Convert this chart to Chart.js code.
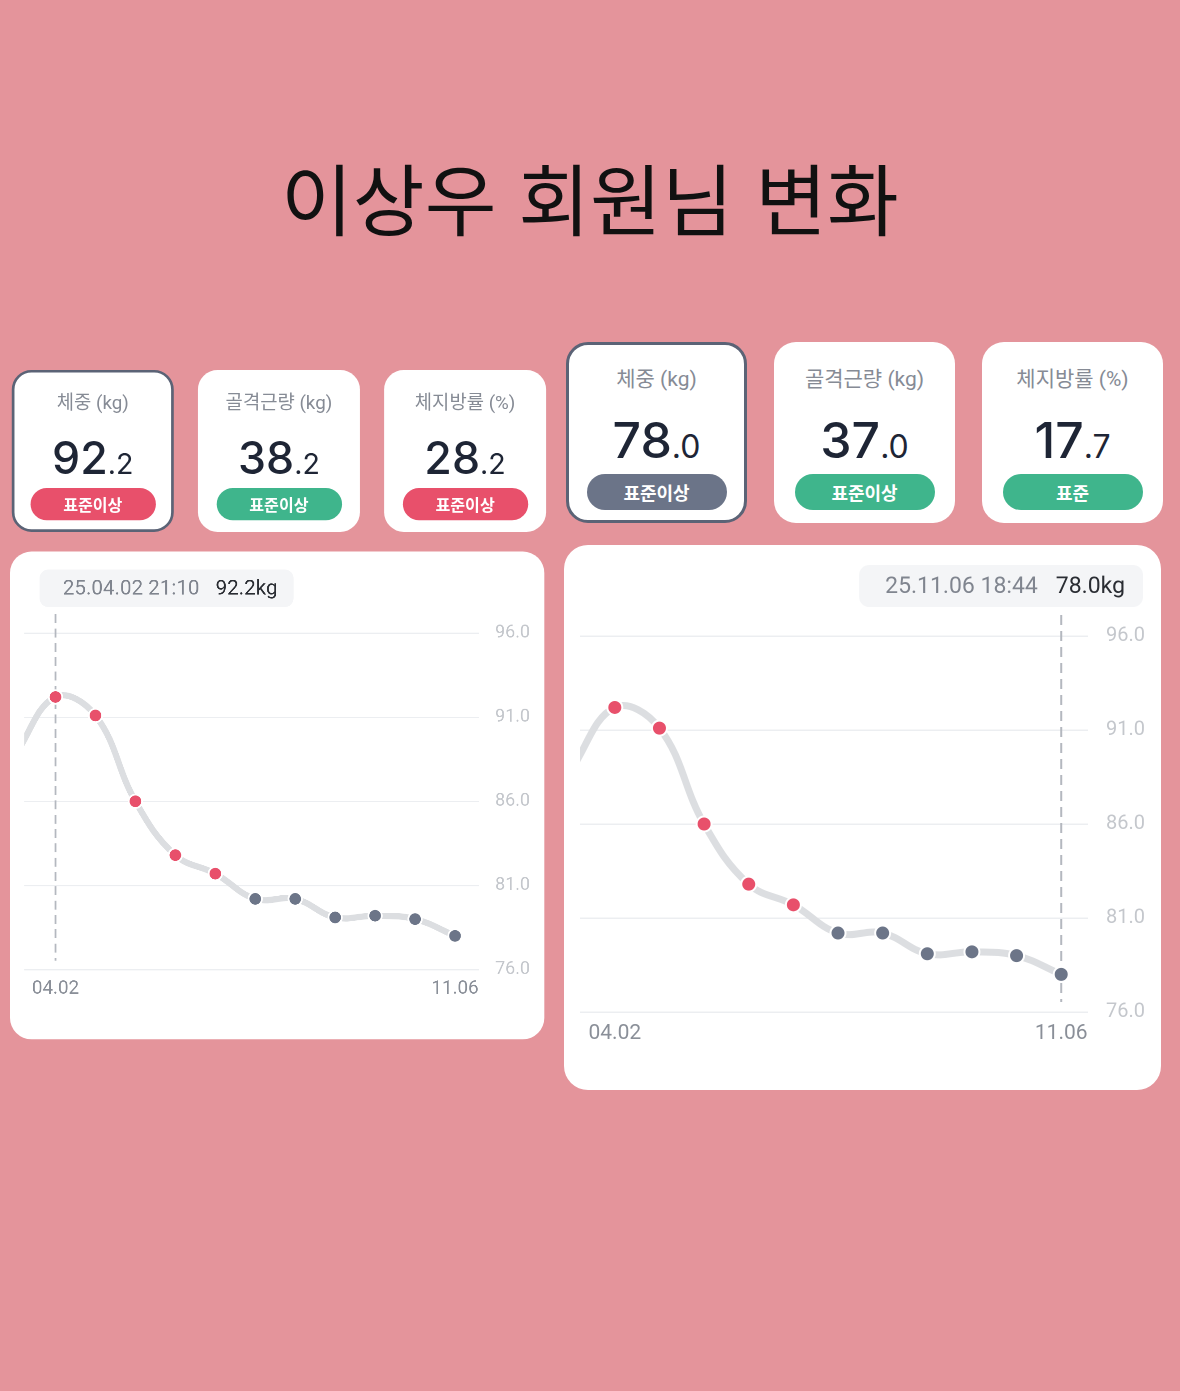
<!DOCTYPE html>
<html lang="ko">
<head>
<meta charset="utf-8">
<title>이상우 회원님 변화</title>
<script src="https://cdn.jsdelivr.net/npm/chart.js@4.4.1/dist/chart.umd.min.js"></script>
<style>
  body {
    margin: 0;
    width: 1180px;
    height: 1391px;
    background: #e4949b;
    position: relative;
    overflow: hidden;
    font-family: Roboto, "Noto Sans CJK KR", sans-serif;
  }
  .title {
    position: absolute;
    top: 146px;
    left: 0;
    width: 100%;
    margin: 0;
    text-align: center;
    font-family: "Noto Sans CJK KR", sans-serif;
    font-weight: 400;
    font-size: 78px;
    line-height: 100px;
    color: #111;
  }
  .panel {
    position: absolute;
    width: 600px;
    height: 750px;
    transform-origin: 0 0;
  }
  .card {
    position: absolute;
    top: 1px;
    width: 181px;
    height: 181px;
    background: #fff;
    border-radius: 22px;
    box-sizing: border-box;
  }
  .card.selected { border: 3px solid #5b6376; }
  .card .label {
    position: absolute;
    top: 23px;
    left: 0;
    width: 100%;
    text-align: center;
    font-size: 21px;
    line-height: 28px;
    color: #868b95;
  }
  .card.selected .label { top: 20px; }
  .card .value {
    position: absolute;
    top: 73px;
    left: 0;
    width: 100%;
    text-align: center;
    line-height: 50px;
    color: #1e2535;
  }
  .card.selected .value { top: 70px; }
  .value .int { font-family: Inter, Roboto, sans-serif; font-size: 50px; font-weight: 500; }
  .value .dec { font-family: Inter, Roboto, sans-serif; font-size: 32px; font-weight: 400; }
  .badge {
    position: absolute;
    top: 132px;
    left: 50%;
    width: 140px;
    height: 36px;
    margin-left: -70px;
    border-radius: 18px;
    text-align: center;
    font-family: "Noto Sans CJK KR", sans-serif;
    font-weight: 700;
    font-size: 18px;
    line-height: 36px;
    color: #fff;
  }
  .card.selected .badge { top: 129px; }
  .chart-card {
    position: absolute;
    left: 0;
    top: 204px;
    width: 597px;
    height: 545px;
    background: #fff;
    border-radius: 24px;
    overflow: hidden;
  }
</style>
</head>
<body>
<h1 class="title">이상우 회원님 변화</h1>

<div class="panel" id="panelA" style="left:10px; top:369px; transform:scale(0.895);">
  <div class="cards"></div>
  <div class="chart-card"><canvas id="chartA" width="597" height="545"></canvas></div>
</div>

<div class="panel" id="panelB" style="left:564px; top:341px;">
  <div class="cards"></div>
  <div class="chart-card"><canvas id="chartB" width="597" height="545"></canvas></div>
</div>

<script>
// -- Data --
const cardLabels = ['체중 (kg)', '골격근량 (kg)', '체지방률 (%)'];

const cardValuesA = [92.2, 38.2, 28.2];
const cardStatusA = ['표준이상', '표준이상', '표준이상'];
const cardToneA = ['high', 'good', 'high'];

const cardValuesB = [78.0, 37.0, 17.7];
const cardStatusB = ['표준이상', '표준이상', '표준'];
const cardToneB = ['neutral', 'good', 'good'];

// weight readings; the first one is just left of the visible window
const weights = [88.8, 92.2, 91.1, 86.0, 82.8, 81.7, 80.2, 80.2, 79.1, 79.2, 79.0, 78.0];
const dateTicks = ['04.02', '11.06'];
const yTicks = [76, 81, 86, 91, 96];

const selectedA = { index: 1, date: '25.04.02 21:10', value: '92.2kg' };
const selectedB = { index: 11, date: '25.11.06 18:44', value: '78.0kg' };

// -- Colours --
const toneColors = { high: '#e8506b', good: '#3fb58c', neutral: '#6b7488' };
const overColor = '#e8506b';
const normalColor = '#6c7588';
const overThreshold = 81;

// -- Cards --
function buildCards(panelId, values, status, tones) {
    const wrap = document.querySelector('#' + panelId + ' .cards');
    const lefts = [2, 210, 418];
    cardLabels.forEach((label, i) => {
        const card = document.createElement('div');
        card.className = 'card' + (i === 0 ? ' selected' : '');
        card.style.left = lefts[i] + 'px';
        const parts = values[i].toFixed(1).split('.');
        card.innerHTML =
            `<div class="label">${label}</div>` +
            `<div class="value"><span class="int">${parts[0]}</span><span class="dec">.${parts[1]}</span></div>` +
            `<div class="badge" style="background:${toneColors[tones[i]]}">${status[i]}</div>`;
        wrap.appendChild(card);
    });
}

// -- Marker plugin: dashed line + reading box --
const markerPlugin = {
    id: 'marker',
    beforeDatasetsDraw(chart, args, opts) {
        const pt = chart.getDatasetMeta(0).data[opts.index];
        if (!pt) return;
        const area = chart.chartArea;
        const ctx = chart.ctx;
        ctx.save();
        ctx.strokeStyle = '#b4b8bf';
        ctx.lineWidth = 2;
        ctx.setLineDash([10, 6]);
        ctx.beginPath();
        ctx.moveTo(pt.x, area.top - 21);
        ctx.lineTo(pt.x, area.bottom - 10);
        ctx.stroke();
        ctx.restore();
    },
    afterDraw(chart, args, opts) {
        const pt = chart.getDatasetMeta(0).data[opts.index];
        if (!pt) return;
        const ctx = chart.ctx;
        ctx.save();
        ctx.font = '400 23px Roboto, sans-serif';
        const wDate = ctx.measureText(opts.date).width;
        const wVal = ctx.measureText(opts.value).width;
        const w = 26 + wDate + 18 + wVal + 18;
        const h = 42;
        let left = pt.x - w / 2;
        left = Math.max(33, Math.min(left, 579 - w));
        const top = 20;
        ctx.fillStyle = '#f4f5f7';
        ctx.beginPath();
        ctx.roundRect(left, top, w, h, 10);
        ctx.fill();
        ctx.textBaseline = 'middle';
        ctx.textAlign = 'left';
        ctx.fillStyle = '#80858f';
        ctx.fillText(opts.date, left + 26, top + h / 2 + 1);
        ctx.fillStyle = '#2a2d33';
        ctx.fillText(opts.value, left + 26 + wDate + 18, top + h / 2 + 1);
        ctx.restore();
    }
};

// -- Chart --
function makeChart(canvasId, selected) {
    const ctx = document.getElementById(canvasId).getContext('2d');
    const firstIdx = 0;
    const lastIdx = weights.length - 2;
    return new Chart(ctx, {
        type: 'line',
        data: {
            datasets: [{
                data: weights.map((v, i) => ({ x: i - 1, y: v })),
                borderColor: '#dcdee1',
                borderWidth: 7,
                tension: 0.4,
                clip: 0,
                pointRadius: 7.5,
                pointBorderWidth: 2,
                pointBorderColor: '#ffffff',
                pointBackgroundColor: (c) => (c.raw && c.raw.y > overThreshold ? overColor : normalColor)
            }]
        },
        plugins: [markerPlugin],
        options: {
            responsive: false,
            devicePixelRatio: 2,
            animation: false,
            events: [],
            layout: { padding: { top: 91, left: 16, right: 0, bottom: 0 } },
            plugins: {
                legend: { display: false },
                tooltip: { enabled: false },
                marker: selected
            },
            scales: {
                x: {
                    type: 'linear',
                    min: -0.78,
                    max: 10.6,
                    grid: { display: false },
                    border: { display: false },
                    afterBuildTicks: (s) => { s.ticks = [{ value: firstIdx }, { value: lastIdx }]; },
                    afterFit: (s) => { s.height = 78; },
                    ticks: {
                        autoSkip: false,
                        maxRotation: 0,
                        padding: 1,
                        color: '#8a8f98',
                        font: { family: 'Roboto', size: 21 },
                        callback: (v) => (v === firstIdx ? dateTicks[0] : dateTicks[1])
                    }
                },
                y: {
                    position: 'right',
                    min: yTicks[0],
                    max: yTicks[yTicks.length - 1],
                    afterBuildTicks: (s) => { s.ticks = yTicks.map(v => ({ value: v })); },
                    afterFit: (s) => { s.width = 73; },
                    grid: { color: '#eceef1', lineWidth: 1.5, drawTicks: false },
                    border: { display: false },
                    ticks: {
                        padding: 18,
                        color: '#c4c7cc',
                        font: { family: 'Roboto', size: 20 },
                        callback: (v) => v.toFixed(1)
                    }
                }
            }
        }
    });
}

buildCards('panelA', cardValuesA, cardStatusA, cardToneA);
buildCards('panelB', cardValuesB, cardStatusB, cardToneB);
makeChart('chartA', selectedA);
makeChart('chartB', selectedB);
</script>
</body>
</html>
